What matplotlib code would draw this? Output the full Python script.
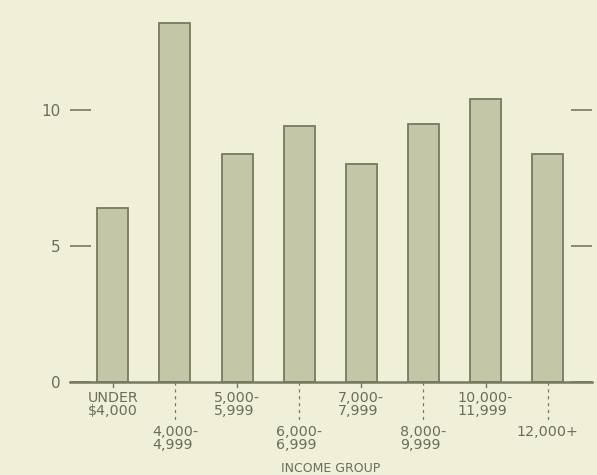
import matplotlib
matplotlib.use("Agg")
import matplotlib.pyplot as plt
import matplotlib.transforms as mtransforms

# Data
categories = ["UNDER\n$4,000", "4,000-\n4,999", "5,000-\n5,999", "6,000-\n6,999",
              "7,000-\n7,999", "8,000-\n9,999", "10,000-\n11,999", "12,000+"]
values = [6.4, 13.2, 8.4, 9.4, 8.0, 9.5, 10.4, 8.4]
yticks = [0, 5, 10]
ytick_labels = ["0", "5", "10"]
xlabel = "INCOME GROUP"

BG = "#eff0d7"
BAR = "#c4c7a7"
EDGE = "#777a60"
TXT = "#6c6e5b"

plt.rcParams['font.family'] = ['DejaVu Sans']

fig = plt.figure(figsize=(5.97, 4.75), dpi=100, facecolor=BG)
W, H = 597, 475
px_per_unit = 27.2
ymax = 14
ax = fig.add_axes([70 / W, 93 / H, 522 / W, ymax * px_per_unit / H])
ax.set_facecolor(BG)

x = list(range(len(values)))
ax.bar(x, values, width=0.5, color=BAR, edgecolor=EDGE, linewidth=1.3, zorder=2)

ax.set_xlim(-0.689, 7.714)
ax.set_ylim(0, ymax)

for s in ["top", "left", "right"]:
    ax.spines[s].set_visible(False)
ax.spines["bottom"].set_color(EDGE)
ax.spines["bottom"].set_linewidth(1.8)
ax.spines["bottom"].set_zorder(3)

ax.set_yticks(yticks)
ax.set_yticklabels(ytick_labels)
ax.tick_params(axis="y", direction="in", length=15, width=1.2, color=EDGE,
               labelcolor=TXT, labelsize=11, pad=7, right=True, labelright=False)
ax.set_xticks([])

trans = mtransforms.blended_transform_factory(ax.transData, ax.transAxes)
axh = ymax * px_per_unit  # axes height in px

for i, lab in enumerate(categories):
    if i % 2 == 0:
        ax.plot([i, i], [0, -5 / axh], transform=trans, color=EDGE, lw=1.0,
                clip_on=False)
        ax.text(i, -8.5 / axh, lab, transform=trans, ha="center", va="top",
                multialignment="left", fontsize=10.3, color=TXT, linespacing=0.97)
    else:
        ax.plot([i, i], [0, -41 / axh], transform=trans, color=EDGE, lw=0.9,
                linestyle=(0, (2.5, 3)), clip_on=False)
        ax.text(i, -42.5 / axh, lab, transform=trans, ha="center", va="top",
                multialignment="left", fontsize=10.3, color=TXT, linespacing=0.97)

ax.text(3.5, -86 / axh, xlabel, transform=trans, ha="center", va="center",
        fontsize=9, color=TXT)

fig.savefig("out.png", dpi=100, facecolor=BG)
